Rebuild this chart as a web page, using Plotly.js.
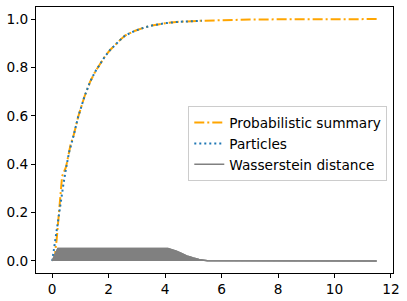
<!DOCTYPE html>
<html>
<head>
<meta charset="utf-8">
<script src="https://cdn.plot.ly/plotly-3.0.1.min.js"></script>
<style>html,body{margin:0;padding:0;background:#fff}#chart{width:407px;height:301px}</style>
</head>
<body>
<div id="chart"></div>
<script>
// Probabilistic summary (orange dash-dot)
const summaryX = [0.1, 0.11, 0.155, 0.19, 0.25, 0.31, 0.34, 0.35, 0.49, 0.6, 0.66, 0.745, 0.92, 1.14, 1.34, 1.52, 1.69, 1.87, 2.05, 2.25, 2.4, 2.58, 2.94, 3.29, 3.59, 4.0, 4.5, 5.24, 6.0, 7.0, 8.0, 9.0, 10.0, 11.5];
const summaryY = [0, 0.044, 0.086, 0.134, 0.223, 0.279, 0.334, 0.35, 0.389, 0.451, 0.486, 0.513, 0.596, 0.679, 0.74, 0.782, 0.815, 0.846, 0.872, 0.898, 0.913, 0.932, 0.952, 0.966, 0.975, 0.983, 0.989, 0.993, 0.996, 0.998, 0.999, 0.999, 1.0, 1.0];
// Particles (blue dotted)
const particlesX = [0, 0.07, 0.13, 0.2, 0.3, 0.4, 0.5, 0.6, 0.75, 0.92, 1.14, 1.34, 1.52, 1.69, 1.87, 2.05, 2.25, 2.4, 2.58, 2.94, 3.29, 3.59, 4.0, 4.5, 5.3];
const particlesY = [0, 0.058, 0.113, 0.17, 0.25, 0.32, 0.39, 0.45, 0.515, 0.596, 0.679, 0.74, 0.782, 0.815, 0.846, 0.872, 0.898, 0.913, 0.932, 0.952, 0.966, 0.975, 0.983, 0.989, 0.993];
// Wasserstein distance (gray)
const wassX = [0, 0.2, 4.1, 4.25, 4.4, 4.6, 4.8, 5.0, 5.2, 5.5, 11.5];
const wassY = [0, 0.051, 0.051, 0.047, 0.04, 0.03, 0.019, 0.012, 0.006, 0.001, 0.0];
// Tick values
const xTicks = [0, 2, 4, 6, 8, 10, 12];
const yTicks = [0.0, 0.2, 0.4, 0.6, 0.8, 1.0];

const FONT = {family: 'DejaVu Sans', size: 13.7, color: '#000'};

const traces = [
  {x: summaryX, y: summaryY, mode: 'lines', name: 'Probabilistic summary',
   line: {color: '#ffa500', width: 2, dash: '10px,3px,2px,3px'}},
  {x: particlesX, y: particlesY, mode: 'lines', name: 'Particles',
   line: {color: '#1f77b4', width: 2, dash: '2px,3px'}},
  {x: wassX, y: wassY, mode: 'lines', name: 'Wasserstein fill', showlegend: false, fill: 'tozeroy',
   fillcolor: '#808080', line: {color: '#808080', width: 1.5}, hoverinfo: 'skip'},
  {x: wassX, y: wassY, mode: 'lines', name: 'Wasserstein distance',
   line: {color: '#808080', width: 1.5}}
];

const layout = {
  width: 407, height: 301,
  margin: {l: 36, r: 13.5, t: 7, b: 28, pad: 0},
  paper_bgcolor: '#fff', plot_bgcolor: '#fff',
  font: FONT,
  showlegend: true,
  legend: {x: 0.984, y: 0.627, xanchor: 'right', yanchor: 'top',
           bgcolor: 'rgba(255,255,255,0.8)', bordercolor: '#cccccc', borderwidth: 1,
           font: FONT, traceorder: 'normal'},
  xaxis: {range: [-0.575, 12.075], tickvals: xTicks, ticktext: xTicks.map(String),
          showgrid: false, zeroline: false, showline: true, mirror: true, linecolor: '#000', linewidth: 1,
          ticks: 'outside', ticklen: 4, tickwidth: 1, tickcolor: '#000', tickfont: FONT},
  yaxis: {range: [-0.05, 1.05], tickvals: yTicks, ticktext: yTicks.map(v => v.toFixed(1)),
          showgrid: false, zeroline: false, showline: true, mirror: true, linecolor: '#000', linewidth: 1,
          ticks: 'outside', ticklen: 4, tickwidth: 1, tickcolor: '#000', tickfont: FONT}
};

Plotly.newPlot('chart', traces, layout, {displayModeBar: false, staticPlot: true});
</script>
</body>
</html>
